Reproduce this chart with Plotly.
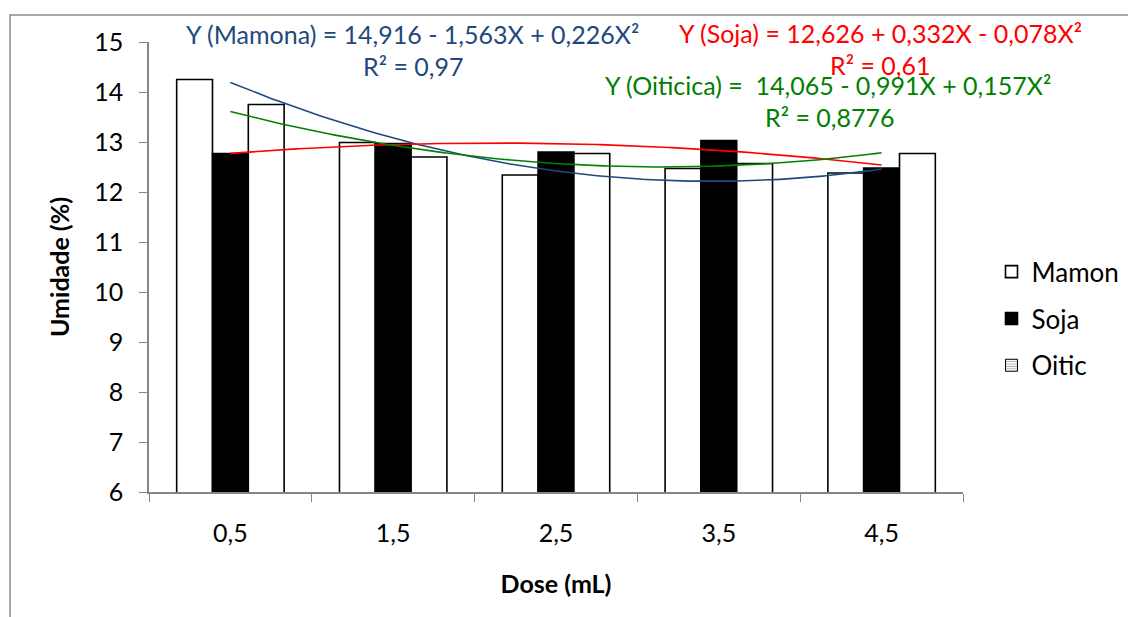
import numpy as np
import plotly.graph_objects as go

# Doses (mL) and moisture content (%) per oil
doses = ["0,5", "1,5", "2,5", "3,5", "4,5"]
dose_values = [0.5, 1.5, 2.5, 3.5, 4.5]
mamona = [14.25, 12.99, 12.34, 12.47, 12.38]
soja = [12.77, 12.97, 12.80, 13.03, 12.48]
oiticica = [13.75, 12.70, 12.77, 12.57, 12.77]

# Quadratic fits: c0 + c1*X + c2*X^2
coef_mamona = [14.916, -1.563, 0.226]
coef_soja = [12.626, 0.332, -0.078]
coef_oiticica = [14.065, -0.991, 0.157]

C_MAMONA = "#1F497D"
C_SOJA = "#FF0000"
C_OITI = "#008000"
FONT = "Lato"
FS = 25

fig = go.Figure()

bar_line = dict(color="black", width=1.6)
fig.add_trace(go.Bar(x=doses, y=mamona, name="Mamon", offsetgroup="m", legendgroup="m",
                     marker=dict(color="white", line=bar_line)))
fig.add_trace(go.Bar(x=doses, y=soja, name="Soja", offsetgroup="s", legendgroup="s",
                     marker=dict(color="black", line=bar_line)))
fig.add_trace(go.Bar(x=doses, y=oiticica, name="Oitic", offsetgroup="o", legendgroup="o",
                     showlegend=False, marker=dict(color="white", line=bar_line)))
# legend entry for the hatched Oitic key (shares the Oitic slot)
fig.add_trace(go.Bar(x=[None], y=[None], name="Oitic", offsetgroup="o", legendgroup="o",
                     marker=dict(color="white", line=dict(color="black", width=1),
                                 pattern=dict(shape="-", fgcolor="#555555", size=3, solidity=0.4))))

# fitted curves on an overlaid linear axis
xs = np.linspace(dose_values[0], dose_values[-1], 200)
for coef, col in [(coef_mamona, C_MAMONA), (coef_soja, C_SOJA), (coef_oiticica, C_OITI)]:
    ys = coef[0] + coef[1] * xs + coef[2] * xs ** 2
    fig.add_trace(go.Scatter(x=xs, y=ys, mode="lines", xaxis="x2", showlegend=False,
                             line=dict(color=col, width=1.6), hoverinfo="skip"))

axis_col = "#868686"
fig.update_layout(
    width=1128, height=617,
    margin=dict(l=149, r=165, t=42, b=125, autoexpand=False),
    paper_bgcolor="white", plot_bgcolor="white",
    barmode="group", bargap=0.34, bargroupgap=0,
    font=dict(family=FONT, color="black", size=FS),
    showlegend=True,
    legend=dict(x=1.035, y=0.385, xanchor="left", yanchor="middle",
                font=dict(size=26, family=FONT), tracegroupgap=10,
                traceorder="grouped", itemwidth=30),
    xaxis=dict(type="category", showline=True, linecolor=axis_col, linewidth=1.5,
               ticks="outside", tickson="boundaries", ticklen=8, tickcolor=axis_col,
               showgrid=False, zeroline=False, range=[-0.5, 4.5],
               tickfont=dict(size=FS, family=FONT), ticklabelstandoff=18,
               title=dict(text="<b>Dose (mL)</b>", font=dict(size=FS, family=FONT), standoff=30)),
    xaxis2=dict(overlaying="x", range=[0, 5], visible=False),
    yaxis=dict(range=[6, 15], dtick=1, showline=True, linecolor=axis_col, linewidth=1.5,
               ticks="outside", ticklen=8, tickcolor=axis_col, showgrid=False, zeroline=False,
               tickfont=dict(size=FS, family=FONT), ticklabelstandoff=11,
               title=dict(text="<b>Umidade (%)</b>", font=dict(size=FS, family=FONT), standoff=17)),
)

def px_to_paper(px, py):
    return (px - 149) / 814, (492 - py) / 450

annotations = [
    (412, 34, "Y (Mamona) = 14,916 - 1,563X + 0,226X²", C_MAMONA),
    (413, 66, "R² = 0,97", C_MAMONA),
    (880, 33, "Y (Soja) = 12,626 + 0,332X - 0,078X²", C_SOJA),
    (880, 65, "R² = 0,61", C_SOJA),
    (828, 85, "Y (Oiticica) =  14,065 - 0,991X + 0,157X²", C_OITI),
    (830, 117, "R² = 0,8776", C_OITI),
]
for px, py, txt, col in annotations:
    ax, ay = px_to_paper(px, py)
    fig.add_annotation(x=ax, y=ay, xref="paper", yref="paper", text=txt, showarrow=False,
                       xanchor="center", yanchor="middle",
                       font=dict(size=FS, color=col, family=FONT))

# chart outer frame
x0, y0 = px_to_paper(10, 15)
x1, y1 = px_to_paper(1140, 630)
fig.add_shape(type="rect", xref="paper", yref="paper", x0=x0, y0=y1, x1=x1, y1=y0,
              line=dict(color="#8C8C8C", width=1.5), fillcolor="rgba(0,0,0,0)", layer="below")

fig.write_html("out.html")
